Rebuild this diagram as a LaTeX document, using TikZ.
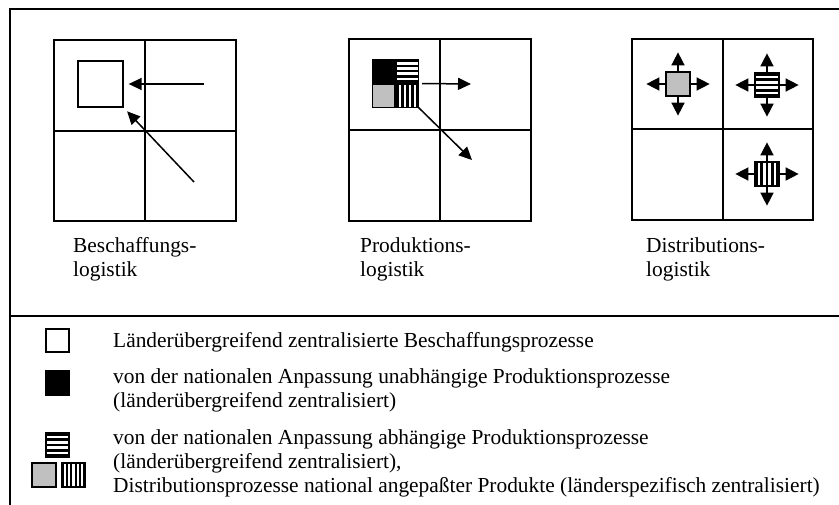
\documentclass[tikz,border=0pt]{standalone}
\usepackage{fontspec}
\setmainfont{Liberation Serif}
\usetikzlibrary{arrows.meta,calc}
\definecolor{lgray}{HTML}{C0C0C0}
\tikzset{
  hstr/.style={draw, fill=black, path picture={
    \foreach \k in {1,3,5,7}{
      \fill[white] let \p1=(path picture bounding box.north west), \p2=(path picture bounding box.south east) in
        (\x1,{\y1+(\y2-\y1)*\k/9}) rectangle (\x2,{\y1+(\y2-\y1)*(\k+1)/9});}}},
  vstr/.style={draw, fill=black, path picture={
    \foreach \k in {1,3,5,7}{
      \fill[white] let \p1=(path picture bounding box.north west), \p2=(path picture bounding box.south east) in
        ({\x1+(\x2-\x1)*\k/9},\y1) rectangle ({\x1+(\x2-\x1)*(\k+1)/9},\y2);}}},
  vstrb/.style={draw, fill=black, path picture={
    \foreach \k in {1,3,5,7,9}{
      \fill[white] let \p1=(path picture bounding box.north west), \p2=(path picture bounding box.south east) in
        ({\x1+(\x2-\x1)*\k/11},\y1) rectangle ({\x1+(\x2-\x1)*(\k+1)/11},\y2);}}}
}
\begin{document}
\begin{tikzpicture}[x=1pt,y=-1pt,
  txt/.style={anchor=base west, inner sep=0pt, font=\fontsize{21.4}{24}\selectfont},
  gridouter/.style={line width=1.5pt},
  gridmid/.style={line width=2.4pt},
  arr/.style={line width=1.5pt, -{Triangle[length=13pt,width=12pt]}},
  sarr/.style={line width=1.5pt, -{Triangle[length=13pt,width=13pt]}},
  sq/.style={draw, line width=1.3pt, inner sep=0pt, minimum width=#1, minimum height=#1},
  sqwh/.style 2 args={draw, line width=1.3pt, inner sep=0pt, minimum width=#1, minimum height=#2}
]
\useasboundingbox (0,0) rectangle (839,504);
% frame
\draw[line width=2pt] (10,9) rectangle (870,530);
\draw[line width=2pt] (10,316) -- (870,316);

% panel 1
\draw[gridouter] (54,40) rectangle (236,221);
\draw[gridmid] (145,40) -- (145,221);
\draw[gridmid] (54,131) -- (236,131);
\node[sqwh={45pt}{46pt}] (sq1) at (100.5,84) {};
\coordinate (t1a) at (204,84);
\coordinate (t1b) at (194,182);
\draw[arr, shorten >=5pt] (t1a) -- (sq1.east);
\draw[arr, shorten >=5pt] (t1b) -- (sq1.south east);
\node[txt] (l1a) at (73,252) {Beschaffungs-};
\node[txt] (l1b) at (73,276) {logistik};

% panel 2
\draw[gridouter] (349,39) rectangle (531,221);
\draw[gridmid] (440,39) -- (440,221);
\draw[gridmid] (349,130) -- (531,130);
\node[inner sep=0pt, minimum width=45pt, minimum height=47pt] (cq) at (395.5,83.5) {};
\node[sqwh={22.5pt}{23.5pt}, fill=black, anchor=south east] (cqa) at (cq.center) {};
\node[sqwh={22.5pt}{23.5pt}, hstr, anchor=south west] (cqb) at (cq.center) {};
\node[sqwh={22.5pt}{23.5pt}, fill=lgray, anchor=north east] (cqc) at (cq.center) {};
\node[sqwh={22.5pt}{23.5pt}, vstr, anchor=north west] (cqd) at (cq.center) {};
\coordinate (t2a) at (471,84);
\coordinate (t2b) at (472,160);
\draw[arr] ([xshift=4pt]cq.east) -- (t2a);
\draw[arr] (cq.south east) -- (t2b);
\node[txt] (l2a) at (360,252) {Produktions-};
\node[txt] (l2b) at (360,276) {logistik};

% panel 3
\draw[gridouter] (632,39) rectangle (813,220);
\draw[gridmid] (723,39) -- (723,220);
\draw[gridmid] (632,129) -- (813,129);
\node[sq=24pt, fill=lgray] (g3) at (678,84) {};
\node[sq=24pt, hstr] (h3) at (767,85) {};
\node[sq=24pt, vstr] (v3) at (767,174) {};
\foreach \n in {g3,h3,v3}{
  \draw[sarr] (\n.north) -- ([yshift=19pt]\n.north);
  \draw[sarr] (\n.south) -- ([yshift=-19pt]\n.south);
  \draw[sarr] (\n.east) -- ([xshift=19pt]\n.east);
  \draw[sarr] (\n.west) -- ([xshift=-19pt]\n.west);
}
\node[txt] (l3a) at (646,252) {Distributions-};
\node[txt] (l3b) at (646,276) {logistik};

% legend
\node[sq=23pt] (k1) at (57.5,340.5) {};
\node[sq=24pt, fill=black] (k2) at (57.5,383) {};
\node[sqwh={23pt}{24pt}, hstr] (k3) at (57.5,445) {};
\node[sq=24pt, fill=lgray] (k4) at (44,475) {};
\node[sqwh={23pt}{24pt}, vstrb] (k5) at (73.5,475) {};

\node[txt] (e1) at (113,347) {Länderübergreifend zentralisierte Beschaffungsprozesse};
\node[txt] (e2) at (113,383) {von der nationalen Anpassung unabhängige Produktionsprozesse};
\node[txt] (e3) at (113,407) {(länderübergreifend zentralisiert)};
\node[txt] (e4) at (113,444) {von der nationalen Anpassung abhängige Produktionsprozesse};
\node[txt] (e5) at (113,468) {(länderübergreifend zentralisiert),};
\node[txt] (e6) at (113,492) {Distributionsprozesse national angepaßter Produkte (länderspezifisch zentralisiert)};
\end{tikzpicture}
\end{document}
